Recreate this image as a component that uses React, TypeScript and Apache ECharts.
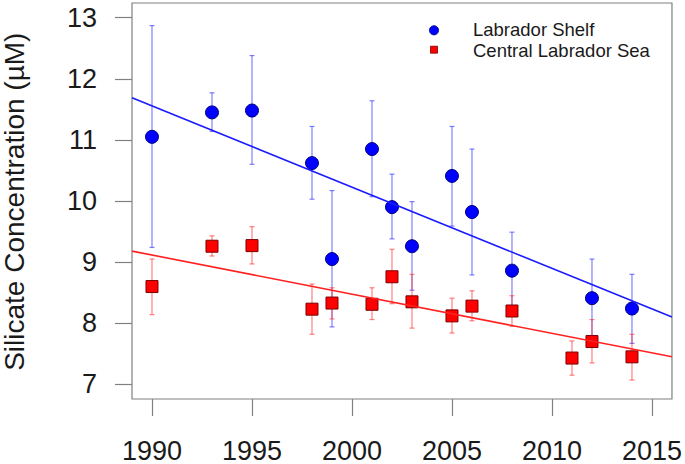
import React, { useEffect, useRef } from "react";
import * as echarts from "echarts";

// Labrador Shelf (blue circles)
const shelfYears = [1990, 1993, 1995, 1998, 1999, 2001, 2002, 2003, 2005, 2006, 2008, 2012, 2014];
const shelfMean = [11.05, 11.45, 11.48, 10.62, 9.05, 10.85, 9.9, 9.26, 10.41, 9.82, 8.86, 8.41, 8.24];
const shelfLow = [9.24, 11.14, 10.6, 10.03, 7.94, 10.07, 9.38, 8.54, 9.59, 8.79, 8.23, 7.77, 7.67];
const shelfHigh = [12.87, 11.77, 12.38, 11.22, 10.17, 11.64, 10.44, 9.99, 11.22, 10.85, 9.49, 9.05, 8.8];

// Central Labrador Sea (red squares)
const centralYears = [1990, 1993, 1995, 1998, 1999, 2001, 2002, 2003, 2005, 2006, 2008, 2011, 2012, 2014];
const centralMean = [8.6, 9.26, 9.27, 8.23, 8.33, 8.31, 8.76, 8.35, 8.12, 8.28, 8.2, 7.43, 7.7, 7.45];
const centralLow = [8.14, 9.1, 8.97, 7.82, 8.07, 8.06, 8.32, 7.92, 7.84, 8.04, 7.95, 7.15, 7.35, 7.07];
const centralHigh = [9.05, 9.43, 9.58, 8.64, 8.58, 8.58, 9.21, 8.8, 8.41, 8.53, 8.45, 7.71, 8.06, 7.82];

// Regression lines (end points at the plot edges)
const trendYears = [1989, 2016];
const shelfTrend = [11.69, 8.1];
const centralTrend = [9.18, 7.45];

// Axis ticks
const xTicks = [1990, 1995, 2000, 2005, 2010, 2015];
const yTicks = [7, 8, 9, 10, 11, 12, 13];

const FONT = "'Liberation Sans', Arial, Helvetica, sans-serif";

function errorBarRender(color: string) {
  return (params: any, api: any) => {
    const x = api.value(0);
    const lo = api.coord([x, api.value(1)]);
    const hi = api.coord([x, api.value(2)]);
    const w = 2.5;
    const style = { stroke: color, lineWidth: 1.2, fill: "none" };
    return {
      type: "group",
      children: [
        { type: "line", shape: { x1: lo[0], y1: lo[1], x2: hi[0], y2: hi[1] }, style },
        { type: "line", shape: { x1: hi[0] - w, y1: hi[1], x2: hi[0] + w, y2: hi[1] }, style },
        { type: "line", shape: { x1: lo[0] - w, y1: lo[1], x2: lo[0] + w, y2: lo[1] }, style },
      ],
    };
  };
}

export default function App() {
  const ref = useRef<HTMLDivElement>(null);
  useEffect(() => {
    if (!ref.current) return;
    const chart = echarts.init(ref.current, null, { renderer: "svg" });
    const option: any = {
      animation: false,
      backgroundColor: "#ffffff",
      grid: {
        left: 132,
        right: 12,
        top: 3,
        bottom: 65,
        show: true,
        borderColor: "#808080",
        borderWidth: 1.2,
        backgroundColor: "transparent",
      },
      xAxis: {
        type: "value",
        min: 1989,
        max: 2016,
        axisLine: { show: false },
        splitLine: { show: false },
        axisTick: {
          show: true,
          inside: false,
          length: 17,
          customValues: xTicks,
          lineStyle: { color: "#808080", width: 1.2 },
        },
        axisLabel: {
          customValues: xTicks,
          margin: 38,
          fontSize: 27,
          fontFamily: FONT,
          color: "#1a1a1a",
          formatter: (v: number) => String(v),
        },
      },
      yAxis: {
        type: "value",
        min: 6.76,
        max: 13.24,
        axisLine: { show: false },
        splitLine: { show: false },
        axisTick: {
          show: true,
          inside: false,
          length: 17,
          customValues: yTicks,
          lineStyle: { color: "#808080", width: 1.2 },
        },
        axisLabel: {
          customValues: yTicks,
          margin: 35,
          fontSize: 27,
          fontFamily: FONT,
          color: "#1a1a1a",
          formatter: (v: number) => String(v),
        },
      },
      graphic: [
        {
          type: "text",
          x: 14,
          y: 201.7,
          rotation: Math.PI / 2,
          style: {
            text: "Silicate Concentration (µM)",
            fontSize: 28,
            fontFamily: FONT,
            fill: "#1a1a1a",
            textAlign: "center",
            textVerticalAlign: "middle",
          },
        },
        {
          type: "circle",
          shape: { cx: 434, cy: 30.3, r: 4.6 },
          style: { fill: "#0000ff", stroke: "#00007a", lineWidth: 0.8 },
        },
        {
          type: "rect",
          shape: { x: 430.5, y: 46.2, width: 7, height: 7 },
          style: { fill: "#ff0000", stroke: "#7a0000", lineWidth: 0.8 },
        },
        {
          type: "text",
          x: 473,
          y: 29.8,
          style: {
            text: "Labrador Shelf",
            fontSize: 18.5,
            fontFamily: FONT,
            fill: "#1a1a1a",
            textAlign: "left",
            textVerticalAlign: "middle",
          },
        },
        {
          type: "text",
          x: 473,
          y: 50.6,
          style: {
            text: "Central Labrador Sea",
            fontSize: 18.5,
            fontFamily: FONT,
            fill: "#1a1a1a",
            textAlign: "left",
            textVerticalAlign: "middle",
          },
        },
      ],
      series: [
        {
          name: "Labrador Shelf trend",
          type: "line",
          data: trendYears.map((y, i) => [y, shelfTrend[i]]),
          symbol: "none",
          lineStyle: { color: "#1a1aff", width: 1.6 },
          silent: true,
        },
        {
          name: "Central Labrador Sea trend",
          type: "line",
          data: trendYears.map((y, i) => [y, centralTrend[i]]),
          symbol: "none",
          lineStyle: { color: "#ff2020", width: 1.6 },
          silent: true,
        },
        {
          name: "Labrador Shelf error",
          type: "custom",
          renderItem: errorBarRender("rgba(50,50,255,0.62)"),
          encode: { x: 0, y: [1, 2] },
          data: shelfYears.map((y, i) => [y, shelfLow[i], shelfHigh[i]]),
          clip: true,
        },
        {
          name: "Labrador Shelf",
          type: "scatter",
          symbol: "circle",
          symbolSize: 13,
          itemStyle: { color: "#0000ff", borderColor: "#00007a", borderWidth: 1, opacity: 1 },
          data: shelfYears.map((y, i) => [y, shelfMean[i]]),
        },
        {
          name: "Central Labrador Sea error",
          type: "custom",
          renderItem: errorBarRender("rgba(255,50,50,0.62)"),
          encode: { x: 0, y: [1, 2] },
          data: centralYears.map((y, i) => [y, centralLow[i], centralHigh[i]]),
          clip: true,
        },
        {
          name: "Central Labrador Sea",
          type: "scatter",
          symbol: "rect",
          symbolSize: 12,
          itemStyle: { color: "#ff0000", borderColor: "#7a0000", borderWidth: 1, opacity: 1 },
          data: centralYears.map((y, i) => [y, centralMean[i]]),
        },
      ],
    };
    chart.setOption(option);
    return () => chart.dispose();
  }, []);
  return (
    <div
      ref={ref}
      style={{ position: "absolute", left: 0, top: 0, width: 685, height: 464 }}
    />
  );
}
